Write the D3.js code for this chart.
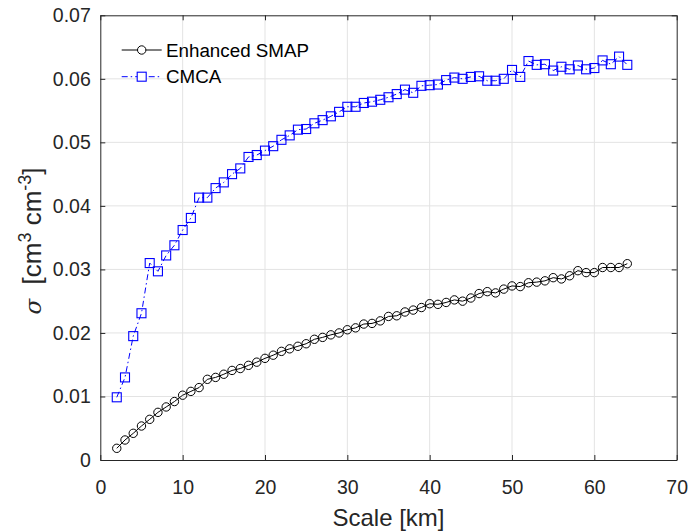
<!DOCTYPE html>
<html>
<head>
<meta charset="utf-8">
<script src="https://cdn.jsdelivr.net/npm/d3@7"></script>
<style>
  html, body { margin: 0; padding: 0; background: #fff; }
  svg { display: block; font-family: "Liberation Sans", Arial, Helvetica, sans-serif; }
</style>
</head>
<body>
<svg id="chart" width="691" height="531"></svg>
<script>
// ---- data ----
const scaleKm = [2,3,4,5,6,7,8,9,10,11,12,13,14,15,16,17,18,19,20,21,22,23,24,25,26,27,28,29,30,31,32,33,
  34,35,36,37,38,39,40,41,42,43,44,45,46,47,48,49,50,51,52,53,54,55,56,57,58,59,60,61,62,63,64];

const enhancedSMAP = [0.00184,0.00315,0.0042,0.00535,0.0064,0.0075,0.00835,0.0092,0.0102,0.0108,0.0114,0.0127,
  0.0130,0.0135,0.0141,0.0144,0.0149,0.0154,0.0160,0.0165,0.0171,0.0175,0.0179,0.0183,0.0190,0.0193,0.0197,
  0.0200,0.0205,0.0208,0.0214,0.0215,0.0219,0.0226,0.0227,0.0233,0.0236,0.0240,0.0246,0.0245,0.0248,0.0252,
  0.0250,0.0255,0.0262,0.0265,0.0263,0.0269,0.0274,0.0273,0.0279,0.0280,0.0282,0.0287,0.0285,0.0290,0.0298,
  0.0295,0.0295,0.0303,0.0303,0.0303,0.0309];

const cmca = [0.00987,0.0130,0.0195,0.0231,0.0310,0.0297,0.0322,0.0338,0.0362,0.0381,0.0413,0.0413,0.0428,
  0.0437,0.0450,0.0459,0.0477,0.0480,0.0487,0.0494,0.0504,0.0511,0.0520,0.0521,0.0530,0.0535,0.0541,0.0548,
  0.0556,0.0556,0.0562,0.0564,0.0567,0.0571,0.0576,0.0583,0.0578,0.0589,0.0590,0.0591,0.0598,0.0602,0.0600,
  0.0603,0.0604,0.0597,0.0597,0.0600,0.0614,0.0603,0.0628,0.0622,0.0623,0.0613,0.0619,0.0615,0.0621,0.0615,
  0.0617,0.0629,0.0623,0.0635,0.0622];

const xTicks = [0,10,20,30,40,50,60,70];
const yTicks = [0,0.01,0.02,0.03,0.04,0.05,0.06,0.07];
const seriesNames = ["Enhanced SMAP", "CMCA"];

// ---- layout ----
const svg = d3.select("#chart");
const L = 100.3, R = 676.7, T = 15.3, B = 460;
const axisColor = "#262626";
const x = d3.scaleLinear().domain([0,70]).range([L,R]);
const y = d3.scaleLinear().domain([0,0.07]).range([B,T]);

// grid
const grid = svg.append("g");
grid.selectAll("line.gx").data(xTicks.slice(1,-1)).enter().append("line")
  .attr("x1", d=>x(d)).attr("x2", d=>x(d)).attr("y1", T).attr("y2", B)
  .attr("stroke", "#e3e3e3").attr("stroke-width", 1);
grid.selectAll("line.gy").data(yTicks.slice(1,-1)).enter().append("line")
  .attr("y1", d=>y(d)).attr("y2", d=>y(d)).attr("x1", L).attr("x2", R)
  .attr("stroke", "#e3e3e3").attr("stroke-width", 1);

// axes
const xAxisB = d3.axisBottom(x).tickValues(xTicks).tickSizeInner(-5).tickSizeOuter(0).tickPadding(20).tickFormat(d3.format("d"));
const xAxisT = d3.axisTop(x).tickValues(xTicks).tickSizeInner(-5).tickSizeOuter(0).tickFormat("");
const yAxisL = d3.axisLeft(y).tickValues(yTicks).tickSizeInner(-5).tickSizeOuter(0).tickPadding(9.5).tickFormat(d => d === 0 ? "0" : d3.format(".2f")(d));
const yAxisR = d3.axisRight(y).tickValues(yTicks).tickSizeInner(-5).tickSizeOuter(0).tickFormat("");

function styleAxis(g) {
  g.select(".domain").attr("stroke", axisColor).attr("stroke-width", 1);
  g.selectAll(".tick line").attr("stroke", axisColor).attr("stroke-width", 1);
  g.selectAll(".tick text").attr("fill", axisColor).attr("font-size", 19.5)
    .attr("font-family", "Liberation Sans, Arial, Helvetica, sans-serif");
}
svg.append("g").attr("transform", `translate(0,${B})`).call(xAxisB).call(styleAxis);
svg.append("g").attr("transform", `translate(0,${T})`).call(xAxisT).call(styleAxis);
svg.append("g").attr("transform", `translate(${L},0)`).call(yAxisL).call(styleAxis);
svg.append("g").attr("transform", `translate(${R},0)`).call(yAxisR).call(styleAxis);

// data
const pts = (vals) => scaleKm.map((k,i) => [k, vals[i]]);
const line = d3.line().x(d=>x(d[0])).y(d=>y(d[1]));

svg.append("path").datum(pts(cmca)).attr("d", line)
  .attr("fill", "none").attr("stroke", "#0000ff").attr("stroke-width", 1)
  .attr("stroke-dasharray", "6,3,1.5,3");
svg.append("g").selectAll("rect").data(pts(cmca)).enter().append("rect")
  .attr("x", d=>x(d[0])-4.5).attr("y", d=>y(d[1])-4.5).attr("width", 9).attr("height", 9)
  .attr("fill", "none").attr("stroke", "#0000ff").attr("stroke-width", 1.1);

svg.append("path").datum(pts(enhancedSMAP)).attr("d", line)
  .attr("fill", "none").attr("stroke", "#000").attr("stroke-width", 1);
svg.append("g").selectAll("circle").data(pts(enhancedSMAP)).enter().append("circle")
  .attr("cx", d=>x(d[0])).attr("cy", d=>y(d[1])).attr("r", 4.2)
  .attr("fill", "none").attr("stroke", "#000").attr("stroke-width", 1);

// legend
const leg = svg.append("g");
const legY = [50, 76.7];
leg.append("line").attr("x1", 121.7).attr("x2", 161.7).attr("y1", legY[0]).attr("y2", legY[0])
  .attr("stroke", "#000").attr("stroke-width", 1);
leg.append("circle").attr("cx", 141.7).attr("cy", legY[0]).attr("r", 4.2)
  .attr("fill", "#fff").attr("stroke", "#000");
leg.append("line").attr("x1", 121.7).attr("x2", 161.7).attr("y1", legY[1]).attr("y2", legY[1])
  .attr("stroke", "#0000ff").attr("stroke-width", 1).attr("stroke-dasharray", "6,3,1.5,3");
leg.append("rect").attr("x", 141.7-4.5).attr("y", legY[1]-4.5).attr("width", 9).attr("height", 9)
  .attr("fill", "#fff").attr("stroke", "#0000ff").attr("stroke-width", 1.1);
leg.selectAll("text").data(seriesNames).enter().append("text")
  .attr("x", 166).attr("y", (d,i)=>legY[i]).attr("dy", "0.35em")
  .attr("font-size", 18.8).attr("fill", "#000").text(d=>d);

// axis labels
svg.append("text").attr("x", (L+R)/2).attr("y", 526).attr("text-anchor", "middle")
  .attr("font-size", 24).attr("fill", axisColor).text("Scale [km]");

const yl = svg.append("text").attr("transform", `translate(41,241) rotate(-90)`)
  .attr("text-anchor", "middle").attr("font-size", 26).attr("fill", axisColor);
yl.append("tspan").attr("font-style", "italic").attr("font-family", "DejaVu Serif, serif").attr("font-size", 23).text("σ");
yl.append("tspan").text("\u00a0 [cm");
yl.append("tspan").attr("baseline-shift", "super").attr("font-size", 18).text("3");
yl.append("tspan").text(" cm");
yl.append("tspan").attr("baseline-shift", "super").attr("font-size", 18).text("-3");
yl.append("tspan").text("]");
</script>
</body>
</html>
